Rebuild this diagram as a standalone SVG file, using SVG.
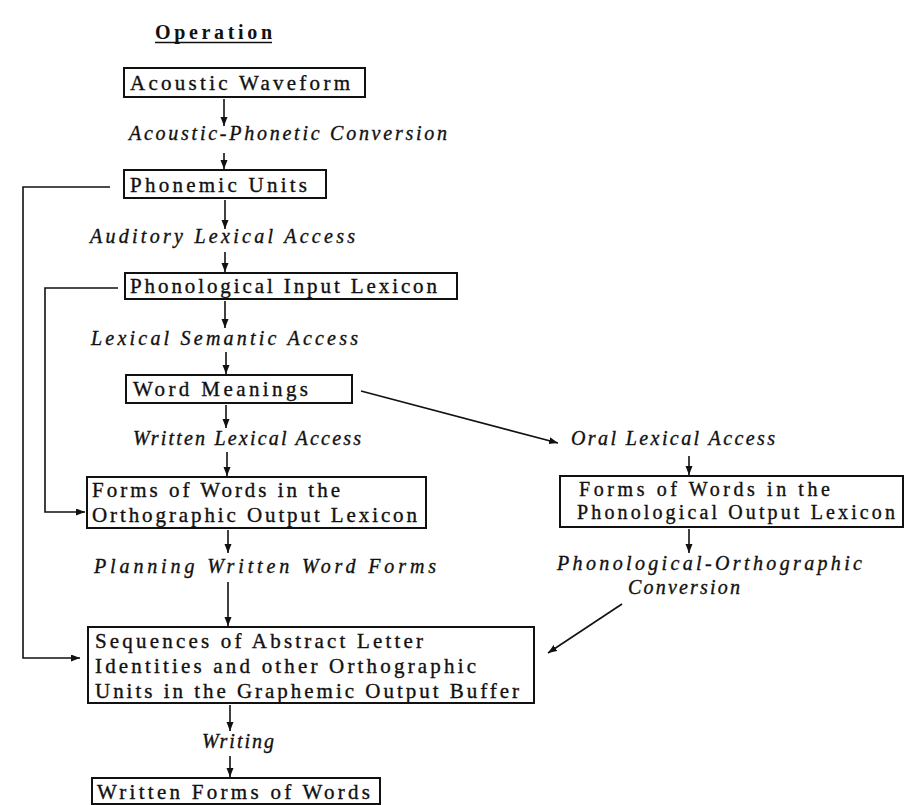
<svg xmlns="http://www.w3.org/2000/svg" width="906" height="805" viewBox="0 0 906 805">
<defs>
<marker id="ah" markerUnits="userSpaceOnUse" markerWidth="10" markerHeight="8" refX="9" refY="3.5" orient="auto">
<path d="M0,0 L9,3.5 L0,7 Z" fill="#111"/>
</marker>
<style>
.box{fill:#fff;stroke:#111;stroke-width:2}
.t{font-family:"Liberation Serif","Times New Roman",serif;font-size:21px;fill:#111;stroke:#111;stroke-width:0.35}
.s{font-size:20px}
.l{font-family:"Liberation Serif","Times New Roman",serif;font-size:20px;font-style:italic;fill:#111;stroke:#111;stroke-width:0.35}
.h{font-family:"Liberation Serif","Times New Roman",serif;font-size:20px;font-weight:bold;fill:#111}
.c{fill:none;stroke:#111;stroke-width:1.6}
.a{marker-end:url(#ah)}
</style>
</defs>
<rect width="906" height="805" fill="#fff"/>
<text class="h" x="155" y="39" textLength="117" lengthAdjust="spacing">Operation</text>
<line x1="155" y1="42.5" x2="272" y2="42.5" stroke="#111" stroke-width="1.6"/>

<g id="connectors">
<line class="c a" x1="224" y1="99" x2="224" y2="126"/>
<line class="c a" x1="224" y1="153" x2="224" y2="169"/>
<line class="c a" x1="225" y1="200" x2="225" y2="229"/>
<line class="c a" x1="225" y1="252" x2="225" y2="272"/>
<line class="c a" x1="225" y1="301" x2="225" y2="328"/>
<line class="c a" x1="226" y1="352" x2="226" y2="374"/>
<line class="c a" x1="226" y1="405" x2="226" y2="428"/>
<line class="c a" x1="227" y1="452" x2="227" y2="476"/>
<line class="c a" x1="228" y1="530" x2="228" y2="553"/>
<line class="c a" x1="228" y1="582" x2="228" y2="626"/>
<line class="c a" x1="230" y1="705" x2="230" y2="731"/>
<line class="c a" x1="230" y1="756" x2="230" y2="777"/>
<line class="c a" x1="689" y1="456" x2="689" y2="475"/>
<line class="c a" x1="689" y1="529" x2="689" y2="553"/>
<line class="c a" x1="361" y1="391" x2="558" y2="443"/>
<line class="c a" x1="622" y1="604" x2="548" y2="653"/>
<polyline class="c a" points="110,187 23,187 23,658 80,658"/>
<polyline class="c a" points="118,288 45,288 45,512 85,512"/>
</g>

<g id="acoustic-waveform">
<rect class="box" x="124" y="68" width="241" height="29"/>
<text class="t" x="130" y="90" textLength="220" lengthAdjust="spacing">Acoustic Waveform</text>
</g>
<text class="l" x="129" y="140" textLength="318" lengthAdjust="spacing">Acoustic-Phonetic Conversion</text>

<g id="phonemic-units">
<rect class="box" x="124" y="170" width="202" height="28"/>
<text class="t" x="130" y="192" textLength="177" lengthAdjust="spacing">Phonemic Units</text>
</g>
<text class="l" x="90" y="243" textLength="265" lengthAdjust="spacing">Auditory Lexical Access</text>

<g id="phonological-input-lexicon">
<rect class="box" x="125" y="273" width="332" height="26"/>
<text class="t" x="130" y="293" textLength="307" lengthAdjust="spacing">Phonological Input Lexicon</text>
</g>
<text class="l" x="91" y="345" textLength="267" lengthAdjust="spacing">Lexical Semantic Access</text>

<g id="word-meanings">
<rect class="box" x="126" y="375" width="226" height="28"/>
<text class="t" x="133" y="396" textLength="175" lengthAdjust="spacing">Word Meanings</text>
</g>
<text class="l" x="133" y="445" textLength="228" lengthAdjust="spacing">Written Lexical Access</text>
<text class="l" x="571" y="445" textLength="204" lengthAdjust="spacing">Oral Lexical Access</text>

<g id="orthographic-output-lexicon">
<rect class="box" x="87" y="477" width="339" height="51"/>
<text class="t" x="92" y="497" textLength="248" lengthAdjust="spacing">Forms of Words in the</text>
<text class="t" x="92" y="522" textLength="325" lengthAdjust="spacing">Orthographic Output Lexicon</text>
</g>

<g id="phonological-output-lexicon">
<rect class="box" x="560" y="476" width="343" height="51"/>
<text class="t s" x="579" y="496" textLength="251" lengthAdjust="spacing">Forms of Words in the</text>
<text class="t s" x="577" y="519" textLength="318" lengthAdjust="spacing">Phonological Output Lexicon</text>
</g>

<text class="l" x="94" y="573" textLength="342" lengthAdjust="spacing">Planning Written Word Forms</text>
<text class="l" x="557" y="570" textLength="305" lengthAdjust="spacing">Phonological-Orthographic</text>
<text class="l" x="628" y="594" textLength="112" lengthAdjust="spacing">Conversion</text>

<g id="graphemic-output-buffer">
<rect class="box" x="88" y="627" width="446" height="76"/>
<text class="t" x="95" y="648" textLength="328" lengthAdjust="spacing">Sequences of Abstract Letter</text>
<text class="t" x="95" y="673" textLength="381" lengthAdjust="spacing">Identities and other Orthographic</text>
<text class="t" x="95" y="698" textLength="424" lengthAdjust="spacing">Units in the Graphemic Output Buffer</text>
</g>
<text class="l" x="202" y="748" textLength="72" lengthAdjust="spacing">Writing</text>

<g id="written-forms-of-words">
<rect class="box" x="92" y="778" width="288" height="26"/>
<text class="t" x="97" y="799" textLength="273" lengthAdjust="spacing">Written Forms of Words</text>
</g>
</svg>
